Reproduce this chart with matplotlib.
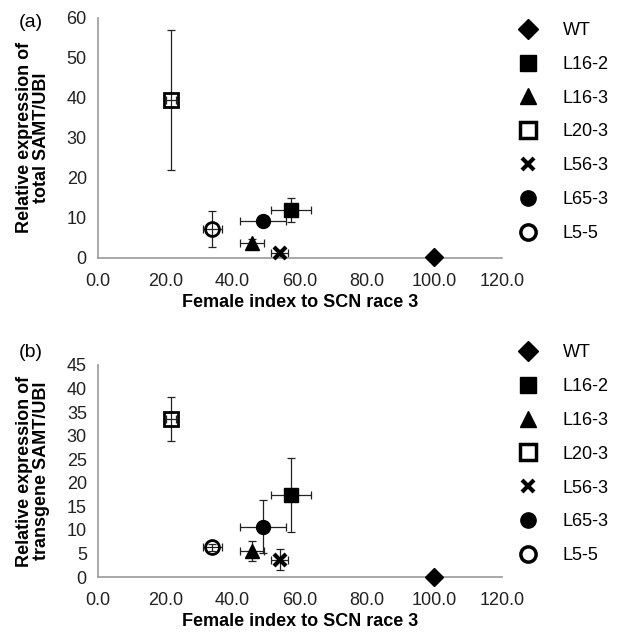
import matplotlib
matplotlib.use("Agg")
import matplotlib.pyplot as plt
from matplotlib.lines import Line2D

plt.rcParams["font.family"] = ["Liberation Sans", "DejaVu Sans"]

# линии и маркеры
lines = ["WT", "L16-2", "L16-3", "L20-3", "L56-3", "L65-3", "L5-5"]
markers = ["D", "s", "^", "s", "x", "o", "o"]
filled = [True, True, True, False, True, True, False]

# общая ось X: женский индекс
female_index = [100.0, 57.4, 45.8, 21.6, 54.0, 49.0, 34.0]
female_index_err = [0.0, 6.0, 3.5, 1.5, 2.5, 6.8, 2.8]

# (a) общий SAMT/UBI
total_expr = [0.2, 11.9, 3.8, 39.5, 1.1, 9.3, 7.3]
total_expr_err = [0.0, 3.0, 1.0, 17.5, 0.8, 1.0, 4.5]

# (b) трансген SAMT/UBI
trans_expr = [0.0, 17.4, 5.5, 33.5, 3.7, 10.7, 6.3]
trans_expr_err = [0.0, 7.9, 2.2, 4.7, 2.2, 5.7, 0.8]

fig = plt.figure(figsize=(6.24, 6.32), dpi=100)
ax_a = fig.add_axes([0.157, 0.592, 0.647, 0.380])
ax_b = fig.add_axes([0.157, 0.087, 0.647, 0.3355])

panels = [
    (ax_a, total_expr, total_expr_err, 60, 10, "Relative expression of\ntotal SAMT/UBI", "(a)", 0.965, 0.965),
    (ax_b, trans_expr, trans_expr_err, 45, 5, "Relative expression of\ntransgene SAMT/UBI", "(b)", 0.443, 0.455),
]

for ax, yvals, yerrs, ymax, ystep, ylab, tag, tag_y, leg_y in panels:
    for i in range(len(lines)):
        ax.errorbar(female_index[i], yvals[i], xerr=female_index_err[i], yerr=yerrs[i],
                    fmt="none", ecolor="#222222", elinewidth=0.9, capsize=3, capthick=0.9, zorder=2)
        if markers[i] == "x":
            ax.plot(female_index[i], yvals[i], marker="x", color="black", ms=9,
                    mew=3, linestyle="none", zorder=3)
        else:
            ax.plot(female_index[i], yvals[i], marker=markers[i], ms=10 if markers[i] != "D" else 9,
                    mfc="black" if filled[i] else "none", mec="black",
                    mew=2 if not filled[i] else 1, linestyle="none", zorder=3)

    ax.set_xlim(0, 120)
    ax.set_ylim(0, ymax)
    ax.set_xticks(range(0, 121, 20))
    ax.set_xticklabels([f"{v:.1f}" for v in range(0, 121, 20)])
    ax.set_yticks(range(0, ymax + 1, ystep))
    ax.tick_params(axis="both", length=0, labelsize=13, colors="#222222")
    ax.tick_params(axis="x", pad=11)
    ax.tick_params(axis="y", pad=8)
    for s in ["top", "right"]:
        ax.spines[s].set_visible(False)
    for s in ["left", "bottom"]:
        ax.spines[s].set_color("#9a9a9a")
        ax.spines[s].set_linewidth(1.2)
    for art in ax.get_children():
        try:
            art.set_clip_on(False)
        except Exception:
            pass

    ax.set_xlabel("Female index to SCN race 3", fontsize=13, fontweight="bold", labelpad=3)
    ax.set_ylabel(ylab, fontsize=13, fontweight="bold", linespacing=1.0)
    ax.yaxis.set_label_coords(-0.118, 0.5)
    fig.text(31 / 624, tag_y, tag, fontsize=14, ha="center", va="center")

    handles = []
    for i in range(len(lines)):
        if markers[i] == "x":
            h = Line2D([], [], marker="x", color="black", ms=9, mew=3, linestyle="none")
        else:
            h = Line2D([], [], marker=markers[i], ms=11 if markers[i] != "D" else 10,
                       mfc="black" if filled[i] else "none", mec="black",
                       mew=2.5 if not filled[i] else 1, linestyle="none")
        handles.append(h)
    ax.legend(handles, lines, loc="upper left", bbox_to_anchor=(0.831, leg_y),
              bbox_transform=fig.transFigure, frameon=False, fontsize=13,
              handlelength=1.0, handletextpad=1.45, labelspacing=0.93, borderpad=0,
              borderaxespad=0)

fig.savefig("out.png", dpi=100)
